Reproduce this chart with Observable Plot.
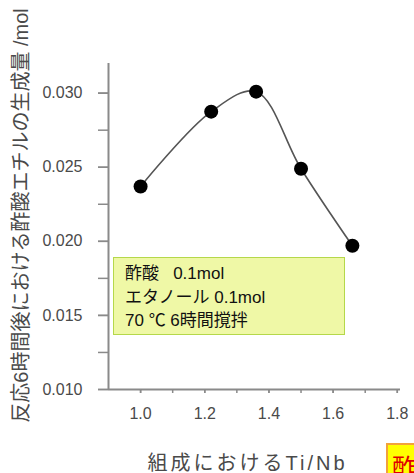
<!DOCTYPE html>
<html>
<head>
<meta charset="utf-8">
<script src="https://cdn.jsdelivr.net/npm/d3@7"></script>
<script src="https://cdn.jsdelivr.net/npm/@observablehq/plot@0.6"></script>
<style>
  html, body { margin: 0; padding: 0; background: #fff; }
  #wrap { position: relative; width: 414px; height: 473px; overflow: hidden;
    font-family: "Liberation Sans", Arial, "Noto Sans CJK JP", sans-serif; }
  #note { position: absolute; left: 113px; top: 257px; width: 230px; height: 76px;
    background: #eff8a6; border: 1.5px solid #b5d84a; box-sizing: content-box;
    padding: 0; font-size: 17px; color: #111; line-height: 23.5px; white-space: pre; }
  #note div { padding-left: 11px; }
  #note div:first-child { margin-top: 4px; }
  #corner { position: absolute; left: 386px; top: 443px; width: 40px; height: 40px;
    background: #ffff00; border: 2px solid #f2a23c; color: #e00000; font-size: 25px;
    line-height: 30px; padding-left: 4px; padding-top: 6px; box-sizing: border-box;
    font-family: "Noto Sans CJK JP", sans-serif; }
  .xtitle text { letter-spacing: 3px; }
</style>
</head>
<body>
<div id="wrap"></div>
<script>
// Data
const ratio = [1.0, 1.22, 1.36, 1.5, 1.66];
const amount = [0.0237, 0.02875, 0.0301, 0.0249, 0.0197];
const yTicks = [0.010, 0.015, 0.020, 0.025, 0.030];
const yMinorTicks = [0.010, 0.0125, 0.015, 0.0175, 0.020, 0.0225, 0.025, 0.0275, 0.030];
const xTicks = [1.0, 1.2, 1.4, 1.6, 1.8];
const xMinorTicks = [1.0, 1.1, 1.2, 1.3, 1.4, 1.5, 1.6, 1.7, 1.8];
const yTitle = "反応6時間後における酢酸エチルの生成量 /mol";
const xTitle = "組成におけるTi/Nb";
const noteLines = ["酢酸   0.1mol", "エタノール 0.1mol", "70 ℃ 6時間撹拌"];
const cornerText = "酢酸";

const data = ratio.map((r, i) => ({ r, a: amount[i] }));
const xDomain = [0.9, 1.81];
const yDomain = [0.010, 0.032];

const axisColor = "#8a8a8a";
const textColor = "#4a4a4a";

const chart = Plot.plot({
  width: 414,
  height: 473,
  marginLeft: 108,
  marginRight: 14,
  marginTop: 63,
  marginBottom: 84,
  style: { fontFamily: "'Liberation Sans', Arial, 'Noto Sans CJK JP', sans-serif", background: "#fff" },
  x: { type: "linear", domain: xDomain },
  y: { type: "linear", domain: yDomain },
  marks: [
    Plot.ruleX([xDomain[0]], { y1: yDomain[0], y2: yDomain[1], stroke: axisColor, strokeWidth: 2 }),
    Plot.ruleY([yDomain[0]], { x1: xDomain[0], x2: xDomain[1], stroke: axisColor, strokeWidth: 2 }),
    Plot.axisY(yMinorTicks, { tickSize: 10, text: null, stroke: axisColor, strokeWidth: 1.5, label: null }),
    Plot.axisY(yTicks, { tickSize: 10, tickPadding: 16, tickFormat: d3.format(".3f"), fontSize: 16, fill: textColor, stroke: axisColor, strokeWidth: 1.5, label: null }),
    Plot.axisX(xMinorTicks, { tickSize: 4, text: null, stroke: axisColor, strokeWidth: 1.5, label: null }),
    Plot.axisX(xTicks, { tickSize: 4, tickPadding: 14, tickFormat: d3.format(".1f"), fontSize: 16, fill: textColor, stroke: axisColor, strokeWidth: 1.5, label: null }),
    Plot.line(data, { x: "r", y: "a", curve: "catmull-rom", stroke: "#555", strokeWidth: 1.6 }),
    Plot.dot(data, { x: "r", y: "a", r: 7, fill: "#000", stroke: "none" }),
    Plot.text([yTitle], { frameAnchor: "left", dx: -87, dy: -11, rotate: -90, text: d => d, fontSize: 20, fill: textColor, textAnchor: "middle", lineAnchor: "middle" }),
    Plot.text([xTitle], { frameAnchor: "bottom", dx: -7, dy: 74, text: d => d, fontSize: 20, fill: textColor, textAnchor: "middle", lineAnchor: "middle", className: "xtitle" })
  ]
});

const wrap = document.getElementById("wrap");
wrap.appendChild(chart);

const note = document.createElement("div");
note.id = "note";
noteLines.forEach(t => { const d = document.createElement("div"); d.textContent = t; note.appendChild(d); });
wrap.appendChild(note);

const corner = document.createElement("div");
corner.id = "corner";
corner.textContent = cornerText;
wrap.appendChild(corner);
</script>
</body>
</html>
